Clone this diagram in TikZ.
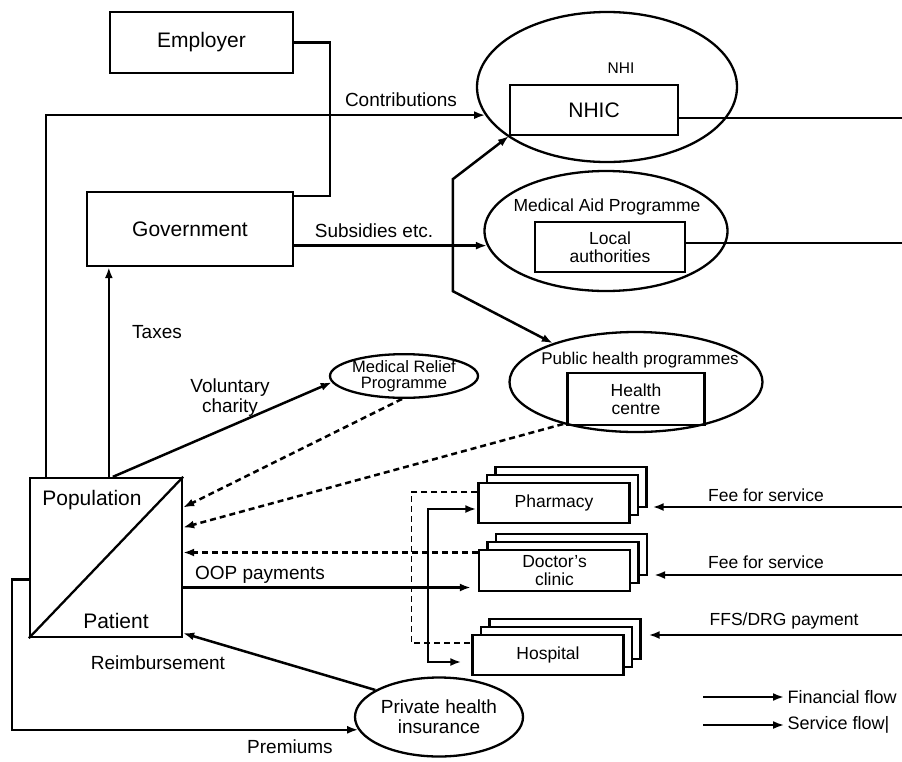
\documentclass[tikz,border=0pt]{standalone}
\usepackage{fontspec}
\setmainfont{Liberation Sans}
\usetikzlibrary{arrows.meta,shapes.geometric,shadows}
\newcommand{\sizeA}{\fontsize{21}{23}\selectfont}
\newcommand{\sizeB}{\fontsize{19}{20}\selectfont}
\newcommand{\sizeC}{\fontsize{17.5}{18}\selectfont}
\tikzset{
  entity/.style={draw,line width=2.3pt,rectangle,inner sep=0pt},
  scheme/.style={draw,line width=2.3pt,ellipse,inner sep=0pt},
  provider/.style={entity,fill=white,minimum width=151pt,minimum height=40pt,font=\sizeC,
    double copy shadow={shadow xshift=8.5pt,shadow yshift=8pt}},
  money/.style={line width=2.5pt,-{Latex[length=11pt,width=8pt]}},
  twoway/.style={money,{Latex[length=11pt,width=8pt]}-{Latex[length=11pt,width=8pt]}},
  service/.style={line width=2.5pt,dash pattern=on 6pt off 4pt,-{Latex[length=11pt,width=8pt]}},
}
\begin{document}
\begin{tikzpicture}[x=1pt,y=-1pt]
\useasboundingbox (0,0) rectangle (902,761);
\node[entity,minimum width=183pt,minimum height=61pt,font=\sizeA] (emp) at (201.5,42.5) {Employer};
\node[entity,minimum width=206pt,minimum height=74pt,font=\sizeA] (gov) at (190,229) {Government};
\node[scheme,minimum width=260pt,minimum height=150pt] (nhi) at (607,87) {};
\node[font=\fontsize{15.5}{16}\selectfont] (nhil) at (621,68) {NHI};
\node[entity,minimum width=168pt,minimum height=50pt,font=\sizeA] (nhic) at (594,110) {NHIC};
\node[scheme,minimum width=243pt,minimum height=120pt] (aid) at (606,231) {};
\node[font=\sizeC] (aidl) at (607,207) {Medical Aid Programme};
\node[entity,minimum width=150pt,minimum height=50pt,align=center,font=\sizeC] (loc) at (610,247) {Local\\authorities};
\node[scheme,minimum width=148pt,minimum height=42pt,align=center,font=\fontsize{16.5}{15.5}\selectfont] (mrp) at (404,376) {Medical Relief\\Programme};
\node[scheme,minimum width=253pt,minimum height=100pt] (php) at (636,382) {};
\node[font=\fontsize{17}{18}\selectfont] (phpl) at (640,360) {Public health programmes};
\node[entity,minimum width=137pt,minimum height=52pt,align=center,font=\sizeC] (hc) at (636,399) {Health\\centre};
\node[entity,minimum width=152pt,minimum height=159pt] (pop) at (106,557.5) {};
\draw[line width=2.3pt] (pop.south west) -- (pop.north east);
\node[font=\sizeA] (popl) at (92,500) {Population};
\node[font=\sizeA] (pat) at (116,621) {Patient};
\node[provider] (pha) at (554,503) {Pharmacy};
\node[provider,align=center,minimum height=41pt] (doc) at (554.5,570.5) {Doctor's\\clinic};
\node[provider] (hos) at (548,655) {Hospital};
\node[scheme,minimum width=168pt,minimum height=79pt,align=center,font=\sizeB] (phi) at (439,717) {Private health\\insurance};
\coordinate (out1) at (902,118);
\coordinate (out2) at (902,243);
\coordinate (fee1) at (902,507);
\coordinate (fee2) at (902,575);
\coordinate (fee3) at (902,635);
\coordinate (lg1) at (703,697);
\coordinate (lg2) at (703,725);
\coordinate (oop) at ([xshift=-50pt,yshift=-17pt]doc.west);
\draw[line width=2.3pt] (emp.east) -- ++(36,0) |- ([yshift=-5pt]gov.north east);
\draw[money] ([xshift=17pt]pop.north west) |- (nhi.193);
\node[font=\sizeB] (con) at (401,100) {Contributions};
\draw[money] (gov.east |- aid.187) -- (aid.187);
\node[font=\sizeB] (sub) at (374,231) {Subsidies etc.};
\draw[line width=2.3pt] ([yshift=-8pt]nhic.east) -- (out1);
\draw[line width=2.3pt] ([yshift=4pt]loc.east) -- (out2);
\draw[twoway] (nhic.south west) -- ++(-56,43) -- ++(0,112) -- (php.155);
\draw[money] ([xshift=80pt]pop.north west) -- ([xshift=80pt]pop.north west |- gov.south);
\node[font=\sizeB] (tax) at (157,332) {Taxes};
\draw[money] ([xshift=84pt]pop.north west) -- (mrp.185);
\node[font=\sizeB,align=center] (vol) at (230,398) {Voluntary\\charity};
\draw[service] (mrp.265) -- ([yshift=50pt]pop.east);
\draw[service] (php.210) -- ([yshift=30pt]pop.east);
\draw[service,-,line width=1.6pt] ([yshift=11pt]pha.west) -- ++(-66,0) |- ([yshift=12pt]hos.west);
\draw[service] ([yshift=18pt]doc.west) -- ([yshift=18pt]doc.west -| pop.east);
\draw[money] ([yshift=-17pt]doc.west -| pop.east) -- ([xshift=-7pt,yshift=-17pt]doc.west);
\node[font=\sizeB] (oopl) at (260,575) {OOP payments};
\draw[money] (oop) |- ([xshift=-1pt,yshift=-6pt]pha.west);
\draw[money] (oop) |- ([xshift=-10pt,yshift=-7pt]hos.west);
\draw[money] (fee1) -- ([xshift=22pt]pha.east |- fee1);
\draw[money] (fee2) -- ([xshift=23pt]doc.east |- fee2);
\draw[money] (fee3) -- ([xshift=24pt]hos.east |- fee3);
\node[font=\sizeC] (fs1) at (766,495) {Fee for service};
\node[font=\sizeC] (fs2) at (766,562) {Fee for service};
\node[font=\sizeC] (drg) at (784,621) {FFS/DRG payment};
\draw[money] (phi.157) -- ([yshift=5pt]pop.south east);
\node[font=\sizeB] (reim) at (158,663) {Reimbursement};
\draw[money] ([yshift=-22pt]pop.west) -- ++(-17,0) |- (phi.189);
\node[font=\sizeB] (prem) at (290,747) {Premiums};
\node[font=\fontsize{18}{19}\selectfont,anchor=west] (lgf) at (784,697) {Financial flow};
\node[font=\fontsize{18}{19}\selectfont,anchor=west] (lgs) at (784,725) {Service flow|};
\draw[money,line width=2.8pt] (lg1) -- (lgf.west);
\draw[money,line width=1.8pt] (lg2) -- (lgs.west);
\end{tikzpicture}
\end{document}
